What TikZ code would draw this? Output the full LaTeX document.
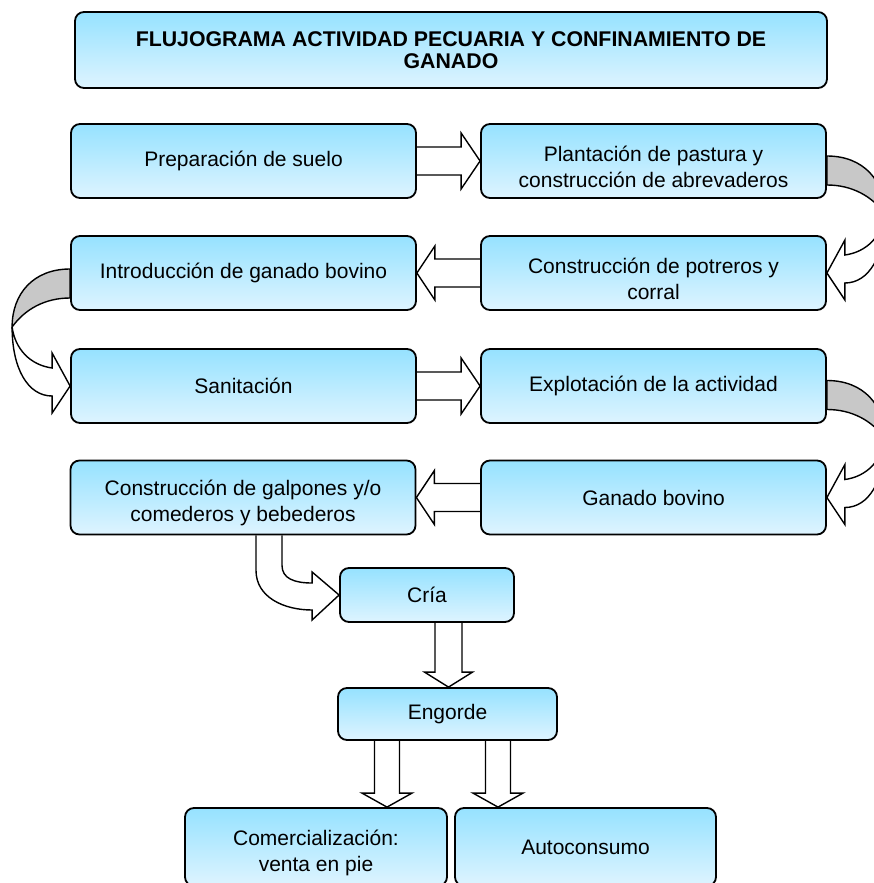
\documentclass[tikz,border=0pt]{standalone}
\usepackage{fontspec}
\setmainfont{Liberation Sans}
\usetikzlibrary{calc,backgrounds}
\definecolor{boxtop}{RGB}{150,226,255}
\definecolor{boxbot}{RGB}{222,244,255}
\definecolor{backgray}{RGB}{200,200,200}
\tikzset{
 flowbox/.style={draw=black, line width=1.8pt, rounded corners=9pt, top color=boxtop, bottom color=boxbot, align=center, inner sep=2pt, font=\fontsize{21}{26}\selectfont},
 sidebox/.style={flowbox, minimum width=345pt, minimum height=74pt},
 blockarr/.style={draw=black, line width=1.4pt, fill=white, line join=miter},
 backarr/.style={draw=black, line width=1.4pt, fill=backgray},
}
\newcommand\lowstrut{\rule{0pt}{27pt}}
\newcommand\myrblock[2]{\draw[blockarr] ($(#1.east)+(0,-14)$) -- ($(#2.west)+(-19,-14)$) -- ($(#2.west)+(-19,-28)$) -- (#2.west) -- ($(#2.west)+(-19,28)$) -- ($(#2.west)+(-19,14)$) -- ($(#1.east)+(0,14)$);}
\newcommand\mylblock[2]{\draw[blockarr] ($(#1.west)+(0,-14)$) -- ($(#2.east)+(18,-14)$) -- ($(#2.east)+(18,-27)$) -- (#2.east) -- ($(#2.east)+(18,27)$) -- ($(#2.east)+(18,14)$) -- ($(#1.west)+(0,14)$);}
% #1 x offset of tip from target centre, #2 source, #3 target, #4 shaft half, #5 head half, #6 head length
\newcommand\mydblock[6]{\coordinate (dt) at ($(#3.north)+(#1,0)$);
 \coordinate (ds) at (dt |- #2.south);
 \draw[blockarr] ($(ds)+(-#4,0)$) -- ($(dt)+(-#4,-#6)$) -- ($(dt)+(-#5,-#6)$) -- (dt) -- ($(dt)+(#5,-#6)$) -- ($(dt)+(#4,-#6)$) -- ($(ds)+(#4,0)$);}
\newcommand\mycurve[2]{\begin{scope}[shift={(#1)}, xscale=#2]
 \draw[backarr] (0,0) .. controls (-37,0) and (-58,25) .. (-58,58) .. controls (-45,40) and (-25,29) .. (0,29) -- cycle;
 \draw[blockarr] (-58,58) .. controls (-58,100) and (-42,127) .. (-18,127) -- (-18,144) -- (0,117) -- (-18,84) -- (-18,99) .. controls (-40,96) and (-55,80) .. (-58,58) -- cycle;
\end{scope}}
\begin{document}
\begin{tikzpicture}[x=1pt,y=-1pt]
\useasboundingbox (0,0) rectangle (874,883);
\node[flowbox, minimum width=752pt, minimum height=76pt, font=\bfseries\fontsize{21.3}{22}\selectfont] (title) at (451,50) {FLUJOGRAMA ACTIVIDAD PECUARIA Y CONFINAMIENTO DE\\GANADO};
\node[sidebox] (l1) at (243.5,161) {Preparación de suelo};
\node[sidebox] (r1) at (653.5,161) {\lowstrut Plantación de pastura y\\construcción de abrevaderos};
\node[sidebox] (l2) at (243.5,273) {Introducción de ganado bovino};
\node[sidebox] (r2) at (653.5,273) {\lowstrut Construcción de potreros y\\corral};
\node[sidebox] (l3) at (243.5,386) {Sanitación};
\node[sidebox] (r3) at (653.5,386) {Explotación de la actividad};
\node[sidebox] (l4) at (243,497.5) {\lowstrut Construcción de galpones y/o\\comederos y bebederos};
\node[sidebox] (r4) at (653.5,497.5) {Ganado bovino};
\node[flowbox, minimum width=174pt, minimum height=54pt] (cria) at (427,595) {Cría};
\node[flowbox, minimum width=219pt, minimum height=52pt] (engorde) at (447.5,714) {Engorde};
\node[flowbox, minimum width=262pt, minimum height=78pt] (comer) at (316,847) {\lowstrut Comercialización:\\venta en pie};
\node[flowbox, minimum width=261pt, minimum height=78pt] (auto) at (585.5,847) {Autoconsumo};
\begin{scope}[on background layer]
\myrblock{l1}{r1}
\myrblock{l3}{r3}
\mylblock{r2}{l2}
\mylblock{r4}{l4}
\mycurve{$(r2.east)+(0,-117)$}{-1}
\mycurve{$(l3.west)+(0,-117)$}{1}
\mycurve{$(r4.east)+(0,-117)$}{-1}
\mydblock{1}{cria}{engorde}{13.5}{24}{15}
\mydblock{71}{engorde}{comer}{12.5}{25}{14}
\mydblock{-87.5}{engorde}{auto}{12.5}{25}{14}
\draw[blockarr] ($(l4.south)+(13,0)$) -- ($(l4.south)+(13,35)$) .. controls ($(l4.south)+(13,62)$) and ($(cria.west)+(-55,15)$) .. ($(cria.west)+(-27,15)$) -- ($(cria.west)+(-27,25)$) -- (cria.west) -- ($(cria.west)+(-27,-23)$) -- ($(cria.west)+(-27,-12)$) .. controls ($(cria.west)+(-45,-12)$) and ($(l4.south)+(39,43)$) .. ($(l4.south)+(39,30)$) -- ($(l4.south)+(39,0)$);
\end{scope}
\end{tikzpicture}
\end{document}
